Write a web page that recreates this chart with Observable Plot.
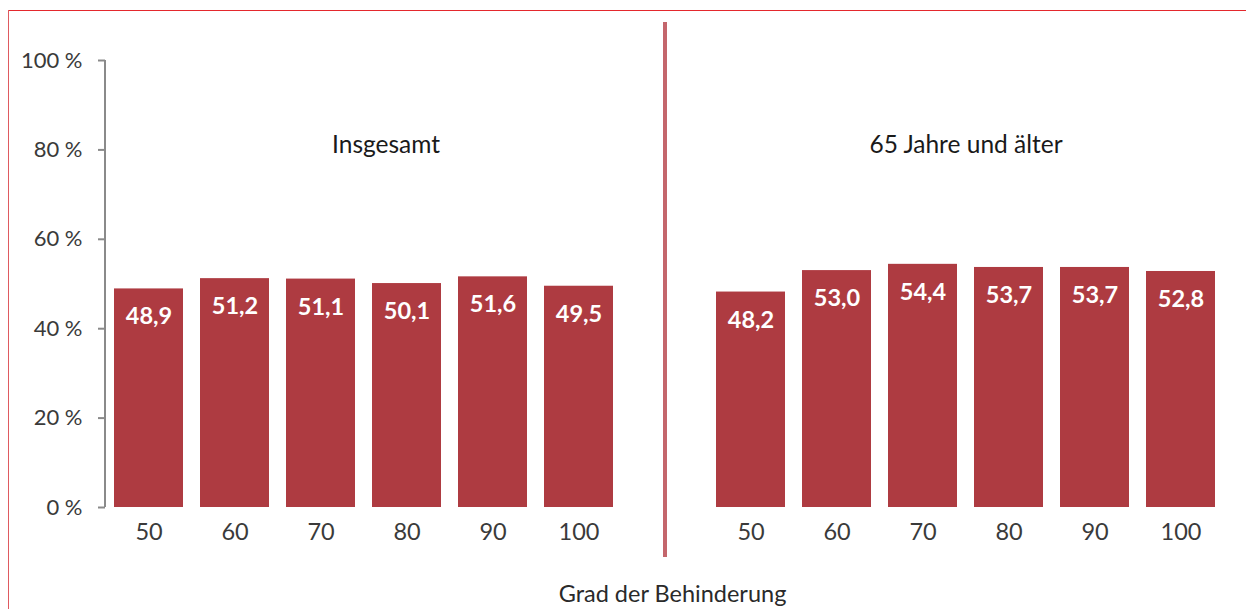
<!DOCTYPE html>
<html>
<head>
<meta charset="utf-8">
<script src="https://cdn.jsdelivr.net/npm/d3@7"></script>
<script src="https://cdn.jsdelivr.net/npm/@observablehq/plot@0.6"></script>
<style>
  html, body { margin: 0; padding: 0; background: #fff; }
  #wrap { position: relative; width: 1246px; height: 609px; overflow: hidden; }
  #frameTop { position: absolute; left: 8px; top: 10px; right: 0; height: 0; border-top: 1.5px solid #e4282d; }
  #frameLeft { position: absolute; left: 8px; top: 10px; bottom: 0; width: 0; border-left: 1.5px solid #df5a60; }
  #chart { position: absolute; left: 0; top: 0; }
</style>
</head>
<body>
<div id="wrap">
  <div id="chart"></div>
  <div id="frameTop"></div>
  <div id="frameLeft"></div>
</div>
<script>
// ---- data ----
const categories = ["50", "60", "70", "80", "90", "100"];
const panelTitles = ["Insgesamt", "65 Jahre und älter"];
const insgesamt = [48.9, 51.2, 51.1, 50.1, 51.6, 49.5];
const ab65 = [48.2, 53.0, 54.4, 53.7, 53.7, 52.8];
const yTicks = [0, 20, 40, 60, 80, 100];
const xLabel = "Grad der Behinderung";

// ---- build table ----
const keyL = c => "L" + c;
const keyR = c => "R" + c;
const gapKey = "gap";
const domain = [...categories.map(keyL), gapKey, ...categories.map(keyR)];
const rows = [
  ...categories.map((c, i) => ({key: keyL(c), value: insgesamt[i]})),
  ...categories.map((c, i) => ({key: keyR(c), value: ab65[i]}))
];
const fmt = v => v.toFixed(1).replace(".", ",");
const font = "Lato, 'Open Sans', sans-serif";

const yAxisLine = (index, scales, values, dims) => {
  const ns = "http://www.w3.org/2000/svg";
  const g = document.createElementNS(ns, "g");
  const line = document.createElementNS(ns, "line");
  const x = dims.marginLeft;
  line.setAttribute("x1", x); line.setAttribute("x2", x);
  line.setAttribute("y1", scales.y(100)); line.setAttribute("y2", scales.y(0));
  line.setAttribute("stroke", "#8a8a8a");
  line.setAttribute("stroke-width", 2);
  g.appendChild(line);
  return g;
};

const chart = Plot.plot({
  width: 1246,
  height: 609,
  marginLeft: 105,
  marginRight: 23,
  marginTop: 60,
  marginBottom: 102,
  style: {fontFamily: font, background: "transparent", color: "#3a3a3a"},
  x: {type: "band", domain, paddingInner: 0.2, paddingOuter: 0.1},
  y: {domain: [0, 100]},
  marks: [
    Plot.axisY(yTicks, {
      tickSize: 7, tickPadding: 16, stroke: "#8a8a8a", strokeWidth: 2,
      tickFormat: d => d + " %", fontSize: 22, fill: "#3a3a3a", label: null
    }),
    Plot.axisX({
      tickSize: 0, tickPadding: 16, fontSize: 23.5, fill: "#3a3a3a",
      tickFormat: k => k === gapKey ? "" : k.slice(1),
      label: null
    }),
    Plot.text([xLabel], {
      frameAnchor: "bottom", dy: 87, dx: 8, text: d => d,
      fontSize: 23.5, fill: "#2a2a2a", lineAnchor: "middle"
    }),
    yAxisLine,
    Plot.ruleX([gapKey], {stroke: "#c4666c", strokeWidth: 4, insetTop: -38, insetBottom: -50}),
    Plot.barY(rows, {x: "key", y: "value", fill: "#ae3b41"}),
    Plot.text(rows, {
      x: "key", y: "value", text: d => fmt(d.value), dy: 28,
      fill: "white", fontWeight: "bold", fontSize: 23.5, lineAnchor: "middle"
    }),
    Plot.text([panelTitles[0]], {
      x: [keyL(categories[3])], frameAnchor: "top", dy: 85, dx: -21,
      text: d => d, fontSize: 24.5, fill: "#1a1a1a", lineAnchor: "middle"
    }),
    Plot.text([panelTitles[1]], {
      x: [keyR(categories[3])], frameAnchor: "top", dy: 85, dx: -43,
      text: d => d, fontSize: 24.5, fill: "#1a1a1a", lineAnchor: "middle"
    })
  ]
});
document.getElementById("chart").appendChild(chart);
</script>
</body>
</html>
